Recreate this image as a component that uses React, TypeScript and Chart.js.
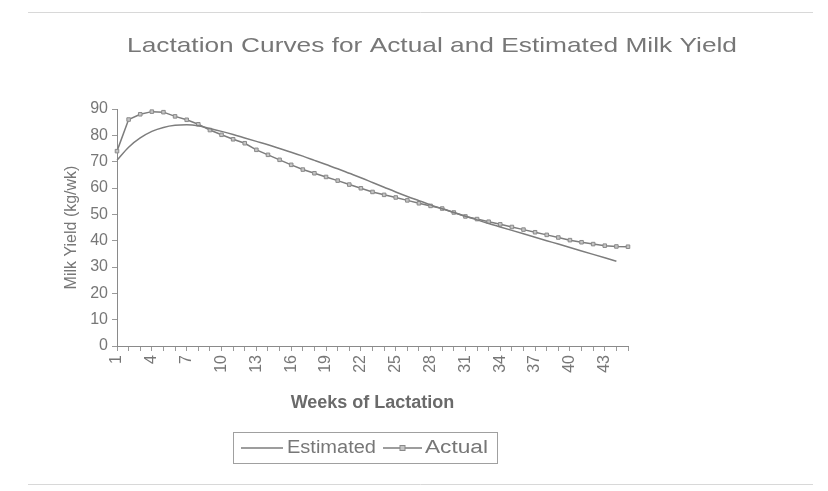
import React, { useEffect, useRef } from 'react';
import { Chart, registerables } from 'chart.js';

Chart.register(...registerables);

const chartTitle = 'Lactation Curves for Actual and Estimated Milk Yield';
const xTitle = 'Weeks of Lactation';
const yTitle = 'Milk Yield (kg/wk)';

const weeks = [
  '1', '2', '3', '4', '5', '6', '7', '8', '9', '10',
  '11', '12', '13', '14', '15', '16', '17', '18', '19', '20',
  '21', '22', '23', '24', '25', '26', '27', '28', '29', '30',
  '31', '32', '33', '34', '35', '36', '37', '38', '39', '40',
  '41', '42', '43', '44', '45',
];

const estimated = [
  70.5, 75.5, 79, 81.5, 83, 83.8, 84, 83.6, 82.6, 81.5,
  80.3, 79, 77.7, 76.4, 75, 73.6, 72.1, 70.5, 68.9, 67.3,
  65.6, 63.9, 62.1, 60.3, 58.5, 56.8, 55.2, 53.6, 52.1, 50.7,
  49.3, 47.9, 46.5, 45.2, 43.9, 42.6, 41.3, 40, 38.7, 37.4,
  36.1, 34.8, 33.5, 32.2,
];

const actual = [
  74, 86, 88, 89, 88.8, 87.2, 85.9, 84.2, 82, 80.2,
  78.5, 77, 74.5, 72.6, 70.7, 68.8, 67, 65.6, 64.2, 62.8,
  61.3, 59.9, 58.5, 57.4, 56.4, 55.3, 54.2, 53.2, 52.2, 50.7,
  49.2, 48.2, 47.2, 46.2, 45.2, 44.2, 43.2, 42.2, 41.2, 40.2,
  39.4, 38.7, 38.1, 37.8, 37.7,
];

const yMin = 0;
const yMax = 90;
const yStep = 10;

const FONT = "'Liberation Sans', Arial, sans-serif";
const TEXT = '#777777';
const LINE = '#7d7d7d';

function fitText(ctx: CanvasRenderingContext2D, text: string, x: number, y: number, width: number, align: 'left' | 'center') {
  const w = ctx.measureText(text).width;
  const sx = width / w;
  ctx.save();
  ctx.translate(x, y);
  ctx.scale(sx, 1);
  ctx.textAlign = align;
  ctx.fillText(text, 0, 0);
  ctx.restore();
}

const framePlugin = {
  id: 'frame',
  beforeDraw(chart: any) {
    const ctx = chart.ctx;
    ctx.save();
    ctx.fillStyle = '#ffffff';
    ctx.fillRect(0, 0, chart.width, chart.height);
    ctx.strokeStyle = '#d8d8d8';
    ctx.lineWidth = 1;
    ctx.beginPath();
    ctx.moveTo(28, 12.5);
    ctx.lineTo(813, 12.5);
    ctx.moveTo(28, 484.5);
    ctx.lineTo(813, 484.5);
    ctx.stroke();
    ctx.restore();
  },
};

const titlePlugin = {
  id: 'customTitle',
  afterDraw(chart: any) {
    const ctx = chart.ctx;
    ctx.save();
    ctx.fillStyle = TEXT;
    ctx.font = `21px ${FONT}`;
    ctx.textBaseline = 'middle';
    fitText(ctx, chartTitle, 432, 46, 610, 'center');
    ctx.restore();
  },
};

const legendPlugin = {
  id: 'customLegend',
  afterDraw(chart: any) {
    const ctx = chart.ctx;
    ctx.save();
    ctx.strokeStyle = '#a0a0a0';
    ctx.lineWidth = 1;
    ctx.strokeRect(233.5, 432.5, 264, 31);
    const y = 448;
    ctx.font = `18px ${FONT}`;
    ctx.fillStyle = TEXT;
    ctx.textBaseline = 'middle';
    const ds = chart.data.datasets;
    ctx.strokeStyle = LINE;
    ctx.lineWidth = 1.5;
    ctx.beginPath();
    ctx.moveTo(241, y);
    ctx.lineTo(283, y);
    ctx.stroke();
    fitText(ctx, ds[0].label, 287, y, 89, 'left');
    ctx.beginPath();
    ctx.moveTo(383, y);
    ctx.lineTo(422, y);
    ctx.stroke();
    ctx.fillStyle = '#c4c4c4';
    ctx.strokeStyle = '#8a8a8a';
    ctx.lineWidth = 1;
    ctx.fillRect(400, y - 2.5, 5, 5);
    ctx.strokeRect(400, y - 2.5, 5, 5);
    ctx.fillStyle = TEXT;
    fitText(ctx, ds[1].label, 425, y, 63, 'left');
    ctx.restore();
  },
};

export default function App() {
  const ref = useRef<HTMLCanvasElement | null>(null);

  useEffect(() => {
    if (!ref.current) return;
    const chart = new Chart(ref.current, {
      type: 'line',
      data: {
        labels: weeks,
        datasets: [
          {
            label: 'Estimated',
            data: estimated,
            borderColor: LINE,
            borderWidth: 1.5,
            pointRadius: 0,
            cubicInterpolationMode: 'monotone',
            fill: false,
          },
          {
            label: 'Actual',
            data: actual,
            borderColor: LINE,
            borderWidth: 1.5,
            pointStyle: 'rect',
            pointRadius: 2.5,
            pointBackgroundColor: '#c4c4c4',
            pointBorderColor: '#8a8a8a',
            pointBorderWidth: 1,
            tension: 0,
            fill: false,
          },
        ],
      },
      options: {
        responsive: false,
        animation: false,
        layout: { padding: { left: 62, right: 200, top: 109, bottom: 69 } },
        plugins: {
          legend: { display: false },
          title: { display: false },
          tooltip: { enabled: false },
        },
        scales: {
          x: {
            type: 'category',
            offset: false,
            afterFit(scale: any) {
              scale.height = 76;
            },
            grid: {
              display: true,
              drawOnChartArea: false,
              drawTicks: true,
              tickLength: 5,
              color: '#9a9a9a',
            },
            border: { display: true, color: '#8a8a8a', width: 1 },
            ticks: {
              autoSkip: false,
              minRotation: 90,
              maxRotation: 90,
              padding: 4,
              color: TEXT,
              font: { family: FONT, size: 16 },
              callback: (_v: any, i: number) => (i % 3 === 0 ? weeks[i] : ''),
            },
            title: {
              display: true,
              text: xTitle,
              color: '#6a6a6a',
              font: { family: FONT, size: 18, weight: 'bold' },
              padding: { top: 0, bottom: 8 },
            },
          },
          y: {
            min: yMin,
            max: yMax,
            afterFit(scale: any) {
              scale.width = 55;
            },
            grid: {
              display: true,
              drawOnChartArea: false,
              drawTicks: true,
              tickLength: 5,
              color: '#9a9a9a',
            },
            border: { display: true, color: '#8a8a8a', width: 1 },
            ticks: {
              stepSize: yStep,
              padding: 4,
              color: TEXT,
              font: { family: FONT, size: 16 },
            },
            title: {
              display: true,
              text: yTitle,
              color: TEXT,
              font: { family: FONT, size: 16 },
              padding: 0,
            },
          },
        },
      },
      plugins: [framePlugin, titlePlugin, legendPlugin],
    });
    return () => chart.destroy();
  }, []);

  return (
    <div style={{ position: 'fixed', left: 0, top: 0, width: 828, height: 491, background: '#fff' }}>
      <canvas ref={ref} width={828} height={491} style={{ display: 'block' }} />
    </div>
  );
}
